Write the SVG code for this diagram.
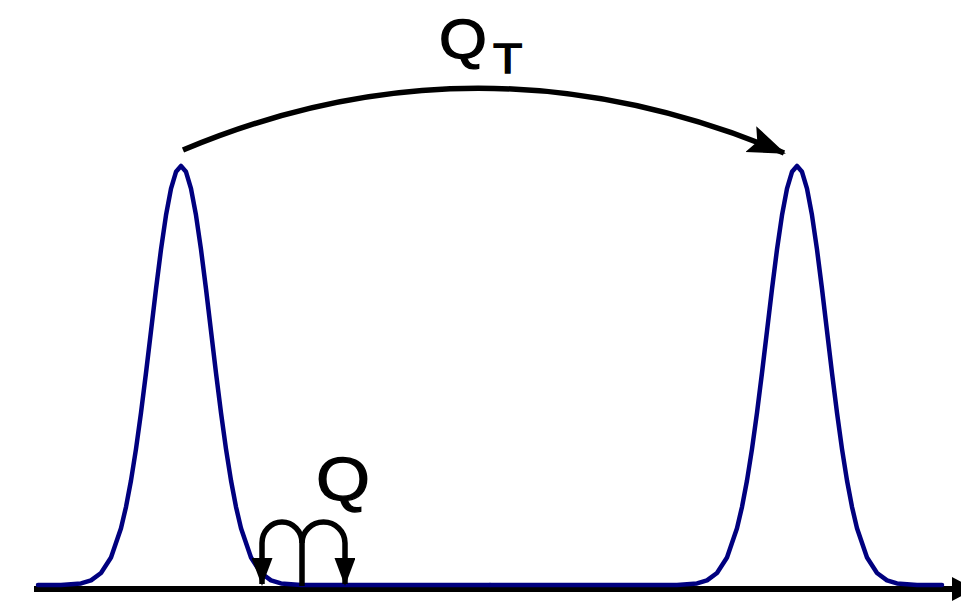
<svg xmlns="http://www.w3.org/2000/svg" width="961" height="605" viewBox="0 0 961 605">
<style>
.curve{fill:none;stroke:#00007f;stroke-width:4.5;stroke-linejoin:round;stroke-linecap:round}
.conn{fill:none;stroke:#000;stroke-width:5.5}
.lbl{font-family:"Liberation Sans",Arial,sans-serif;fill:#000;stroke:#000;stroke-width:1.3}
</style>
<defs>
<marker id="ah" markerUnits="userSpaceOnUse" markerWidth="38" markerHeight="30" viewBox="0 0 38 30" refX="36" refY="15" orient="auto">
<polygon points="0,1 38,15 0,29 7,15" fill="#000"/>
</marker>
<marker id="ahs" markerUnits="userSpaceOnUse" markerWidth="28" markerHeight="21" viewBox="0 0 28 21" refX="26" refY="10.5" orient="auto">
<polygon points="0,0 28,10.5 0,21" fill="#000"/>
</marker>
</defs>
<rect width="961" height="605" fill="#fff"/>
<g id="axis">
<line x1="34" y1="589" x2="956" y2="589" stroke="#000" stroke-width="6"/>
<polygon points="952,577 975,589 952,601" fill="#000"/>
</g>
<g id="peak-left">
<polyline class="curve" points="38,585 61,584.9 81,583.4 91,580.4 101,573.0 111,557.5 121,528.3 126,506.9 131,480.5 136,449.0 141,412.8 146,372.9 151,330.9 156,288.9 161,249.5 166,215.2 171,188.7 176,171.8 181,166 186,171.8 191,188.7 196,215.2 201,249.5 206,288.9 211,330.9 216,372.9 221,412.8 226,449.0 231,480.5 236,506.9 241,528.3 251,557.5 261,573.0 271,580.4 281,583.4 301,584.9 324,585 490,585"/>
</g>
<g id="peak-right">
<polyline class="curve" points="490,585 654,585 677,584.9 697,583.4 707,580.4 717,573.0 727,557.5 737,528.3 742,506.9 747,480.5 752,449.0 757,412.8 762,372.9 767,330.9 772,288.9 777,249.5 782,215.2 787,188.7 792,171.8 797,166 802,171.8 807,188.7 812,215.2 817,249.5 822,288.9 827,330.9 832,372.9 837,412.8 842,449.0 847,480.5 852,506.9 857,528.3 867,557.5 877,573.0 887,580.4 897,583.4 917,584.9 942,585"/>
</g>
<g id="connectors">
<path class="conn" d="M183,150 Q480,25 784,153" marker-end="url(#ah)"/>
<path class="conn" d="M302,586 L302,543 A20,21 0 0 0 262,543 L262,584" marker-end="url(#ahs)"/>
<path class="conn" d="M302,543 A21.5,21 0 0 1 345,543 L345,584" marker-end="url(#ahs)"/>
</g>
<g id="labels">
<text class="lbl" x="0" y="0" font-size="55" transform="translate(439,58) scale(1.12,1)">Q</text>
<text class="lbl" x="0" y="0" font-size="43" transform="translate(493,73) scale(1.12,1)">T</text>
<text class="lbl" x="0" y="0" font-size="62" transform="translate(316,500) scale(1.12,1)">Q</text>
</g>
</svg>
